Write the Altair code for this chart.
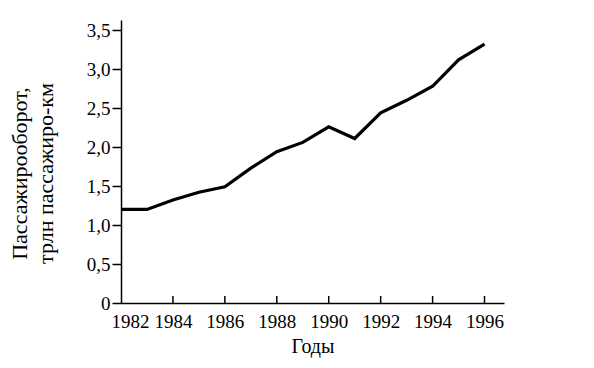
import altair as alt
import pandas as pd

years = [1982, 1983, 1984, 1985, 1986, 1987, 1988, 1989, 1990, 1991, 1992, 1993, 1994, 1995, 1996]
values = [1.20, 1.20, 1.32, 1.42, 1.49, 1.73, 1.94, 2.06, 2.26, 2.11, 2.44, 2.60, 2.78, 3.12, 3.32]
x_tick_years = [1984, 1986, 1988, 1990, 1992, 1994, 1996]
x_label_years = [1982, 1984, 1986, 1988, 1990, 1992, 1994, 1996]
y_ticks = [0, 0.5, 1.0, 1.5, 2.0, 2.5, 3.0, 3.5]

df = pd.DataFrame({"year": years, "value": values})
ticks_df = pd.DataFrame({"year": x_tick_years})

FONT = "Liberation Serif"
W, H = 383, 283

xscale = alt.Scale(domain=[1982, 1996.75], nice=False, zero=False)
yscale = alt.Scale(domain=[0, 3.63], nice=False)

line = alt.Chart(df).mark_line(color="black", strokeWidth=3.2).encode(
    x=alt.X("year:Q", scale=xscale,
            axis=alt.Axis(values=x_label_years, format="d", ticks=False, tickSize=0,
                          labelPadding=9, labelFontSize=19, labelFont=FONT,
                          labelOverlap=False, labelFlush=False,
                          labelColor="black", domainColor="black", domainWidth=1.5,
                          grid=False, title="Годы", titleFont=FONT, titleFontSize=20,
                          titleFontWeight="normal", titleColor="black", titlePadding=5,
                          labelOffset=alt.ExprRef("datum.value == 1982 ? 9 : 0"))),
    y=alt.Y("value:Q", scale=yscale,
            axis=alt.Axis(values=y_ticks, tickSize=9, tickColor="black", tickWidth=1.5,
                          labelPadding=2, labelFontSize=19, labelFont=FONT,
                          labelOverlap=False, labelFlush=False,
                          labelColor="black", domainColor="black", domainWidth=1.5,
                          labelExpr="datum.value == 0 ? '0' : replace(format(datum.value, '.1f'), '.', ',')",
                          grid=False,
                          title=["Пассажирооборот,", "трлн пассажиро-км"],
                          titleFont=FONT, titleFontSize=22, titleFontWeight="normal",
                          titleColor="black", titleLineHeight=26, titleAngle=-90,
                          titleAlign="center", titleBaseline="top",
                          titleX=-112, titleY=153)),
)

tick_marks = alt.Chart(ticks_df).mark_rule(color="black", strokeWidth=1.5).encode(
    x=alt.X("year:Q", scale=xscale),
    y=alt.value(H),
    y2=alt.value(H - 7),
)

chart = (line + tick_marks).properties(
    width=W, height=H,
    padding={"left": 0, "top": 12, "right": 5, "bottom": 5},
).configure_view(stroke=None)

chart.save("out.html", embed_options={"renderer": "svg", "actions": False})
